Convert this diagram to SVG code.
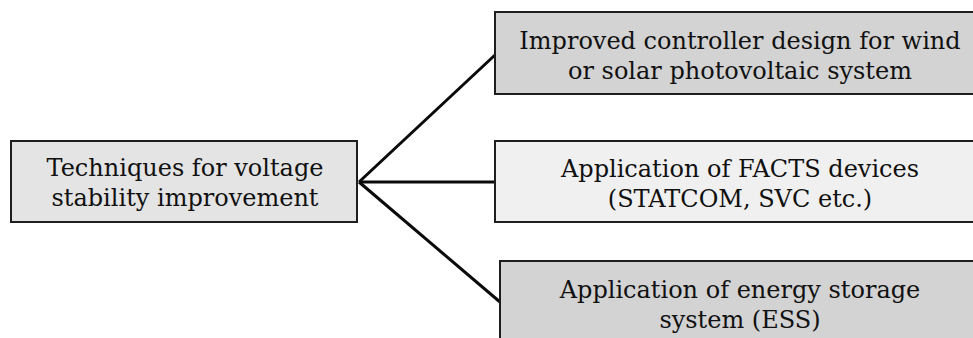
<svg xmlns="http://www.w3.org/2000/svg" width="973" height="338" viewBox="0 0 973 338">
<style>
.box{stroke:#1e1e1e;stroke-width:2}
.t{font-family:'DejaVu Serif',serif;font-size:24px;fill:#111;text-anchor:middle}
.c{stroke:#0a0a0a;stroke-width:3;fill:none}
</style>
<rect width="973" height="338" fill="#ffffff"/>
<g id="connectors">
<line class="c" x1="359" y1="182" x2="495" y2="55"/>
<line class="c" x1="359" y1="182" x2="495" y2="182"/>
<line class="c" x1="359" y1="182" x2="500" y2="302"/>
</g>
<g id="root">
<rect class="box" x="11" y="141" width="346" height="81" fill="#e4e4e4"/>
<text class="t" x="185" y="176">Techniques for voltage</text>
<text class="t" x="185" y="206">stability improvement</text>
</g>
<g id="controller">
<rect class="box" x="495" y="12" width="490" height="82" fill="#d3d3d3"/>
<text class="t" x="740" y="49">Improved controller design for wind</text>
<text class="t" x="740" y="79">or solar photovoltaic system</text>
</g>
<g id="facts">
<rect class="box" x="495" y="141" width="490" height="81" fill="#f0f0f0"/>
<text class="t" x="740" y="177">Application of FACTS devices</text>
<text class="t" x="740" y="207">(STATCOM, SVC etc.)</text>
</g>
<g id="ess">
<rect class="box" x="500" y="261" width="490" height="90" fill="#d3d3d3"/>
<text class="t" x="740" y="298">Application of energy storage</text>
<text class="t" x="740" y="328">system (ESS)</text>
</g>
</svg>
